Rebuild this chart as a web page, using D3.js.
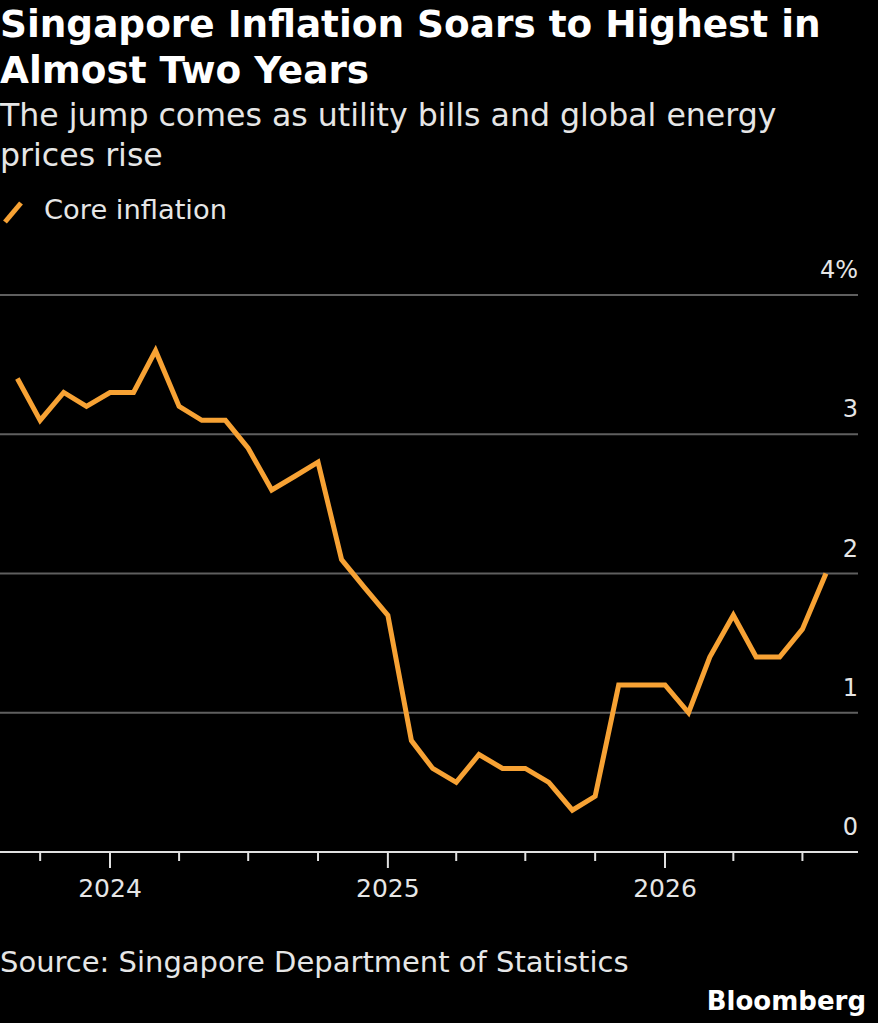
<!DOCTYPE html>
<html>
<head>
<meta charset="utf-8">
<script src="https://cdn.jsdelivr.net/npm/d3@7"></script>
<style>
html,body{margin:0;padding:0;background:#000;}
svg{display:block;}
</style>
</head>
<body>
<script>
const startMonth = "2023-09";
const values = [3.4,3.1,3.3,3.2,3.3,3.3,3.6,3.2,3.1,3.1,2.9,2.6,2.7,2.8,2.1,1.9,1.7,0.8,0.6,0.5,0.7,0.6,0.6,0.5,0.3,0.4,1.2,1.2,1.2,1.0,1.4,1.7,1.4,1.4,1.6,2.0];
const yTicks = [0,1,2,3,4];
const yTickLabels = ["0","1","2","3","4%"];
const yearTicks = ["2024-01","2025-01","2026-01"];
const minorTicks = ["2023-10","2024-04","2024-07","2024-10","2025-04","2025-07","2025-10","2026-04","2026-07"];
const titleLines = ["Singapore Inflation Soars to Highest in","Almost Two Years"];
const subtitleLines = ["The jump comes as utility bills and global energy","prices rise"];
const seriesName = "Core inflation";
const sourceText = "Source: Singapore Department of Statistics";

const W = 878, H = 1023;
const parse = d3.timeParse("%Y-%m");
const start = parse(startMonth);
const data = values.map((v,i)=>({date:d3.timeMonth.offset(start,i), value:v}));

const svg = d3.select("body").append("svg").attr("width",W).attr("height",H);
svg.append("rect").attr("width",W).attr("height",H).attr("fill","#000");

const font = "'DejaVu Sans', Verdana, sans-serif";

svg.selectAll("text.title").data(titleLines).enter().append("text")
  .attr("x",0).attr("y",(d,i)=>37+i*46)
  .attr("fill","#fff").attr("font-family",font).attr("font-weight","bold")
  .attr("font-size",37.4).text(d=>d);

svg.selectAll("text.sub").data(subtitleLines).enter().append("text")
  .attr("x",0).attr("y",(d,i)=>126+i*40)
  .attr("fill","#e6e6e6").attr("font-family",font)
  .attr("font-size",31.6).text(d=>d);

svg.append("line").attr("x1",5).attr("y1",222).attr("x2",21).attr("y2",203)
  .attr("stroke","#F7A234").attr("stroke-width",5);
svg.append("text").attr("x",44).attr("y",219).attr("fill","#e6e6e6")
  .attr("font-family",font).attr("font-size",27.3).text(seriesName);

const x = d3.scaleTime()
  .domain([parse("2024-01"), parse("2026-01")])
  .range([110, 665]);
const y = d3.scaleLinear().domain([0,4]).range([852,295]);

// gridlines
svg.append("g").selectAll("line").data(yTicks.filter(d=>d>0)).enter().append("line")
  .attr("x1",0).attr("x2",858).attr("y1",d=>y(d)).attr("y2",d=>y(d))
  .attr("stroke","#5f5f5f").attr("stroke-width",2);

svg.append("g").selectAll("text").data(yTicks).enter().append("text")
  .attr("x",858).attr("y",d=>y(d)-17).attr("text-anchor","end")
  .attr("fill","#e6e6e6").attr("font-family",font).attr("font-size",24)
  .text((d,i)=>yTickLabels[i]);

// x axis
svg.append("line").attr("x1",0).attr("x2",858).attr("y1",y(0)).attr("y2",y(0))
  .attr("stroke","#e0e0e0").attr("stroke-width",2);
svg.append("g").selectAll("line").data(minorTicks.map(parse)).enter().append("line")
  .attr("x1",d=>x(d)).attr("x2",d=>x(d)).attr("y1",y(0)).attr("y2",y(0)+9)
  .attr("stroke","#e0e0e0").attr("stroke-width",2);
svg.append("g").selectAll("line").data(yearTicks.map(parse)).enter().append("line")
  .attr("x1",d=>x(d)).attr("x2",d=>x(d)).attr("y1",y(0)).attr("y2",y(0)+16)
  .attr("stroke","#e0e0e0").attr("stroke-width",2);
svg.append("g").selectAll("text").data(yearTicks).enter().append("text")
  .attr("x",d=>x(parse(d))).attr("y",897).attr("text-anchor","middle")
  .attr("fill","#e6e6e6").attr("font-family",font).attr("font-size",25)
  .text(d=>d.slice(0,4));

const line = d3.line().x(d=>x(d.date)).y(d=>y(d.value));
svg.append("path").datum(data).attr("d",line)
  .attr("fill","none").attr("stroke","#F7A234").attr("stroke-width",5)
  .attr("stroke-linejoin","miter").attr("stroke-linecap","butt");

svg.append("text").attr("x",0).attr("y",972).attr("fill","#e6e6e6")
  .attr("font-family",font).attr("font-size",29).text(sourceText);
svg.append("text").attr("x",866).attr("y",1010).attr("text-anchor","end")
  .attr("fill","#fff").attr("font-family",font).attr("font-weight","bold")
  .attr("font-size",26).text("Bloomberg");
</script>
</body>
</html>
